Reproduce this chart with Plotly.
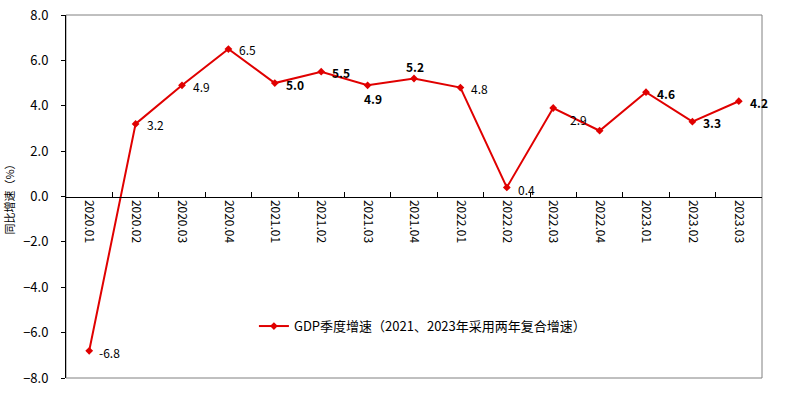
import plotly.graph_objects as go

quarters = ["2020.01", "2020.02", "2020.03", "2020.04",
            "2021.01", "2021.02", "2021.03", "2021.04",
            "2022.01", "2022.02", "2022.03", "2022.04",
            "2023.01", "2023.02", "2023.03"]
growth = [-6.8, 3.2, 4.9, 6.5, 5.0, 5.5, 4.9, 5.2, 4.8, 0.4, 3.9, 2.9, 4.6, 3.3, 4.2]
series_name = "GDP季度增速（2021、2023年采用两年复合增速）"
y_title = "同比增速（%）"
y_ticks = [-8, -6, -4, -2, 0, 2, 4, 6, 8]

# label styling: (show, bold, xanchor, xshift, yshift)
label_style = [
    (True, False, "left", 8, -2),
    (True, False, "left", 9, -1),
    (True, False, "left", 9, -1),
    (True, False, "left", 9, 0),
    (True, True, "left", 9, -1),
    (True, True, "left", 9, -1),
    (True, True, "center", 5, -13),
    (True, True, "center", 1, 12),
    (True, False, "left", 9, -1),
    (True, False, "left", 9, -2),
    (False, False, "left", 0, 0),
    (True, False, "center", -21, 11),
    (True, True, "left", 9, -1),
    (True, True, "left", 9, -1),
    (True, True, "left", 9, -1),
]

RED = "#e00000"
FONT = "Noto Sans CJK SC"

fig = go.Figure()
fig.add_trace(go.Scatter(
    x=quarters, y=growth, mode="lines+markers", name=series_name,
    line=dict(color=RED, width=2),
    marker=dict(symbol="diamond", size=6, color=RED),
))

annotations = []
for i, (v, (show, bold, xa, xs, ys)) in enumerate(zip(growth, label_style)):
    if not show:
        continue
    txt = f"{v:.1f}"
    if bold:
        txt = f"<b>{txt}</b>"
    annotations.append(dict(x=i, y=v, xref="x", yref="y", text=txt, showarrow=False,
                            xanchor=xa, yanchor="middle", xshift=xs, yshift=ys,
                            font=dict(family=FONT, size=12, color="black")))

fig.update_layout(
    width=786, height=407,
    margin=dict(l=66, r=24, t=15, b=29, autoexpand=False),
    plot_bgcolor="white", paper_bgcolor="white",
    font=dict(family=FONT, size=12, color="black"),
    showlegend=True,
    hovermode=False,
    annotations=annotations,
    shapes=[dict(type="rect", xref="paper", yref="paper", x0=0, x1=1, y0=0, y1=1,
                 line=dict(color="#808080", width=1), layer="below")],
    legend=dict(x=0.27, y=0.143, xanchor="left", yanchor="middle",
                bgcolor="rgba(0,0,0,0)", font=dict(size=13),
                itemwidth=30),
    xaxis=dict(
        type="category", anchor="free", position=0.5, side="bottom",
        showline=True, linecolor="black", linewidth=1,
        ticks="inside", ticklen=5, tickcolor="black", tickson="boundaries",
        tickangle=90, showgrid=False, zeroline=False, automargin=False,
        tickfont=dict(size=12), range=[-0.5, 14.5],
    ),
    yaxis=dict(
        range=[-8, 8], tickvals=y_ticks, tickformat=".1f",
        showline=True, linecolor="black", linewidth=1,
        ticks="outside", ticklen=4, tickcolor="black",
        ticklabelstandoff=10,
        showgrid=False, zeroline=False, automargin=False,
        title=dict(text=y_title, font=dict(size=11), standoff=6),
        tickfont=dict(size=13),
    ),
)

fig.write_html("out.html", config={"displayModeBar": False},
               post_script="document.body.style.margin='0';")
